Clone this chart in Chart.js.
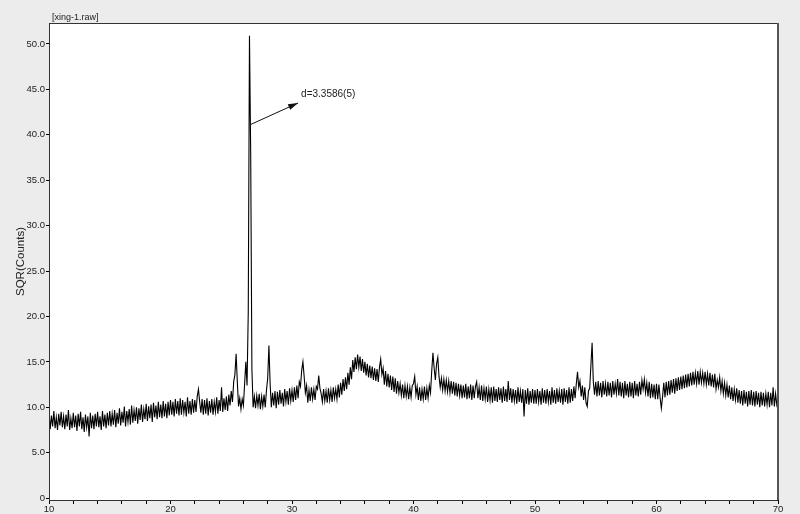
<!DOCTYPE html>
<html>
<head>
<meta charset="utf-8">
<script src="https://cdn.jsdelivr.net/npm/chart.js@4.4.1/dist/chart.umd.min.js"></script>
<style>
html,body{margin:0;padding:0;background:#ececec;}
#wrap{width:800px;height:514px;position:relative;}
</style>
</head>
<body>
<div id="wrap"><canvas id="c" width="800" height="514"></canvas></div>
<script>
// 2-theta scan: start, step (degrees)
const scanStart = 10.0;
const scanStep = 0.1;

// SQR(Counts), in 5-degree blocks
const counts10 = [9.4,7.6,9.1,7.9,9.6,7.7,8.9,7.5,9.3,8.0,
  9.5,7.8,9.0,7.6,9.2,7.9,9.7,7.5,8.8,7.7,
  9.4,7.8,9.1,7.4,9.3,7.9,9.5,7.6,8.9,7.3,
  9.2,7.8,9.0,6.8,9.4,7.7,9.1,7.6,9.3,7.9,
  9.5,7.8,9.0,7.5,9.6,7.9,9.2,7.7,9.4,8.0];
const counts15 = [9.6,7.9,9.3,8.1,9.7,7.8,9.4,8.2,9.9,8.0,
  9.5,8.3,10.1,7.9,9.6,8.4,9.8,8.1,10.2,8.3,
  9.7,8.5,10.0,8.2,9.9,8.6,10.3,8.4,9.8,8.7,
  10.4,8.5,10.1,8.8,10.3,8.4,10.5,8.9,10.2,8.7,
  10.6,8.9,10.3,8.8,10.7,9.0,10.4,8.8,10.6,9.1];
const counts20 = [10.8,9.2,10.6,9.0,10.9,9.3,10.7,9.1,11.0,9.2,
  10.8,9.4,10.6,9.0,11.1,9.3,10.7,9.2,10.9,9.4,
  10.8,9.5,11.2,12.0,10.6,9.4,10.9,9.2,10.8,9.3,
  11.0,9.1,10.7,9.4,10.9,9.2,10.6,9.5,11.1,9.3,
  10.8,9.6,12.2,9.5,11.0,9.7,11.2,9.6,11.4,10.2];
const counts25 = [11.8,10.6,12.8,13.6,15.9,12.8,10.1,11.0,9.8,10.9,
  10.2,12.6,15.0,12.4,20.5,50.9,38.0,14.2,10.0,11.2,
  9.9,11.3,10.2,11.5,9.8,11.2,10.1,11.4,10.0,11.9,
  13.2,16.8,12.6,10.0,11.6,10.2,11.8,9.9,11.7,10.3,
  11.9,10.4,11.6,10.1,12.0,10.6,11.8,10.3,12.1,10.7];
const counts30 = [11.9,10.6,12.2,10.8,12.4,11.0,12.8,12.3,14.1,15.0,
  13.4,11.6,12.4,10.5,11.9,10.7,12.2,10.9,12.0,10.8,
  12.3,12.0,13.5,12.1,11.5,10.6,12.0,10.7,11.8,10.5,
  12.1,10.8,11.9,10.6,12.2,11.0,12.0,10.9,12.5,11.1,
  12.7,11.4,13.1,11.8,13.3,12.0,13.8,12.5,14.4,13.1];
const counts35 = [15.2,13.9,15.5,14.2,15.8,14.4,15.6,14.0,15.3,13.8,
  15.0,13.5,14.8,13.3,14.6,13.2,14.5,13.0,14.3,12.9,
  14.2,12.8,14.4,15.3,13.6,14.3,12.5,14.0,12.3,13.7,
  12.2,13.5,11.9,13.4,11.7,13.2,11.5,12.9,11.6,12.6,
  11.3,12.5,11.0,12.4,11.2,12.3,10.9,12.2,11.1,12.4];
const counts40 = [12.6,13.4,11.4,12.3,10.8,12.2,10.7,12.0,10.9,12.3,
  10.8,12.1,11.0,12.4,11.6,14.0,16.0,14.3,13.0,14.8,
  15.5,13.4,12.2,13.2,11.9,13.1,11.8,13.0,11.7,12.9,
  11.6,12.9,11.5,12.8,11.3,12.7,11.2,12.6,11.3,12.5,
  11.0,12.4,11.1,12.6,10.9,12.3,11.0,12.5,10.8,12.4];
const counts45 = [11.0,12.3,12.8,11.0,12.2,10.8,12.4,10.7,12.1,10.9,
  12.3,10.6,12.0,10.8,12.2,10.5,12.3,10.7,12.0,10.6,
  12.2,10.8,12.1,10.5,12.3,10.7,12.0,10.6,12.9,10.8,
  12.1,10.5,12.0,10.7,11.9,10.4,12.2,10.6,11.8,10.5,
  12.0,9.0,11.9,10.4,12.1,10.3,11.8,10.5,12.0,10.4];
const counts50 = [11.9,10.4,12.0,10.6,11.8,10.3,12.1,10.5,11.9,10.4,
  12.0,10.6,11.8,10.3,12.2,10.5,11.9,10.4,12.1,10.6,
  11.8,10.5,12.0,10.3,12.1,10.6,11.9,10.4,12.2,10.5,
  12.0,10.7,12.3,11.0,12.6,13.9,12.2,12.9,11.2,12.4,
  10.8,12.2,10.5,10.1,11.8,12.1,14.6,17.1,12.8,11.4];
const counts55 = [12.8,11.2,12.9,11.3,12.7,11.1,12.9,11.4,12.6,11.2,
  12.8,11.3,12.7,11.1,12.9,11.4,12.6,11.5,13.1,11.3,
  12.8,11.2,12.7,11.0,12.9,11.3,12.6,11.1,12.8,11.2,
  12.7,11.0,12.9,11.3,12.6,11.2,12.8,11.4,13.0,12.0,
  13.1,11.6,12.7,11.2,12.8,11.0,12.6,11.1,12.5,10.9];
const counts60 = [12.6,10.9,12.5,11.0,9.9,11.2,12.7,11.1,12.8,11.3,
  12.9,11.4,13.0,11.6,13.1,11.5,13.2,11.8,13.3,11.9,
  13.4,12.0,13.5,12.1,13.6,12.2,13.7,12.3,13.8,12.4,
  13.9,12.5,13.8,12.6,14.0,12.5,13.9,12.7,13.8,12.6,
  13.9,12.5,13.7,12.4,13.8,12.3,13.6,12.2,13.7,12.0];
const counts65 = [13.0,12.2,13.3,11.8,12.9,11.5,12.7,11.3,12.5,11.1,
  12.4,10.9,12.2,10.7,12.0,10.8,12.1,10.5,11.9,10.4,
  11.8,10.2,11.9,10.4,11.7,10.1,11.8,10.3,11.9,10.2,
  11.7,10.1,11.8,10.3,11.6,10.0,11.7,10.2,11.6,10.1,
  11.5,10.3,11.7,10.0,11.6,10.2,12.2,10.1,11.5,10.3,
  10.9];

// axis ticks
const xTickValues = [10,12,14,16,18,20,22,24,26,28,30,32,34,36,38,40,42,44,46,48,50,52,54,56,58,60,62,64,66,68,70];
const xTickLabels = [10,20,30,40,50,60,70];
const yTickValues = [0,5,10,15,20,25,30,35,40,45,50];

// annotation (data coordinates)
const fileLabel = "[xing-1.raw]";
const peakText = "d=3.3586(5)";
const arrowFrom = {x: 26.55, y: 41.1};
const arrowTo = {x: 30.5, y: 43.5};
const textAt = {x: 30.75, y: 44.5};

const allCounts = [].concat(counts10,counts15,counts20,counts25,counts30,counts35,
  counts40,counts45,counts50,counts55,counts60,counts65);
const points = allCounts.map((v,i)=>({x: +(scanStart + i*scanStep).toFixed(2), y: v}));

const FONT = "'Liberation Sans', Arial, sans-serif";

const framePlugin = {
  id: 'frame',
  beforeDraw(chart){
    const {ctx, chartArea:a} = chart;
    ctx.save();
    ctx.fillStyle = '#ececec';
    ctx.fillRect(0,0,chart.width,chart.height);
    ctx.fillStyle = '#ffffff';
    ctx.fillRect(a.left,a.top,a.right-a.left,a.bottom-a.top);
    ctx.restore();
  },
  afterDraw(chart){
    const {ctx, chartArea:a, scales} = chart;
    ctx.save();
    ctx.strokeStyle = '#333';
    ctx.lineWidth = 1;
    ctx.strokeRect(a.left+0.5, a.top+0.5, a.right-a.left-1, a.bottom-a.top);
    ctx.beginPath();
    ctx.strokeStyle = '#555';
    ctx.lineWidth = 2;
    ctx.moveTo(a.right, a.top); ctx.lineTo(a.right, a.bottom);
    ctx.stroke();
    // file label
    ctx.fillStyle = '#222';
    ctx.font = '9px ' + FONT;
    ctx.textBaseline = 'bottom';
    ctx.textAlign = 'left';
    ctx.fillText(fileLabel, a.left + 3, a.top - 1);
    // arrow
    const x1 = scales.x.getPixelForValue(arrowFrom.x), y1 = scales.y.getPixelForValue(arrowFrom.y);
    const x2 = scales.x.getPixelForValue(arrowTo.x), y2 = scales.y.getPixelForValue(arrowTo.y);
    ctx.strokeStyle = '#111';
    ctx.lineWidth = 1;
    ctx.beginPath(); ctx.moveTo(x1,y1); ctx.lineTo(x2,y2); ctx.stroke();
    const ang = Math.atan2(y2-y1, x2-x1);
    ctx.fillStyle = '#111';
    ctx.beginPath();
    ctx.moveTo(x2,y2);
    ctx.lineTo(x2 - 10*Math.cos(ang) + 3*Math.sin(ang), y2 - 10*Math.sin(ang) - 3*Math.cos(ang));
    ctx.lineTo(x2 - 10*Math.cos(ang) - 3*Math.sin(ang), y2 - 10*Math.sin(ang) + 3*Math.cos(ang));
    ctx.closePath(); ctx.fill();
    ctx.font = '10px ' + FONT;
    ctx.textBaseline = 'middle';
    ctx.fillStyle = '#222';
    ctx.fillText(peakText, scales.x.getPixelForValue(textAt.x), scales.y.getPixelForValue(textAt.y));
    ctx.restore();
  }
};

new Chart(document.getElementById('c'), {
  type: 'line',
  data: {
    datasets: [{
      data: points,
      borderColor: '#000',
      borderWidth: 1.1,
      pointRadius: 0,
      tension: 0,
      fill: false
    }]
  },
  options: {
    responsive: false,
    animation: false,
    events: [],
    parsing: false,
    layout: {padding: {left: 0, right: 22, top: 23, bottom: 0}},
    plugins: {legend: {display: false}, tooltip: {enabled: false}},
    scales: {
      x: {
        type: 'linear',
        min: 10, max: 70,
        afterBuildTicks(s){ s.ticks = xTickValues.map(v=>({value:v})); },
        afterFit(s){ s.height = 14; },
        grid: {display: true, drawOnChartArea: false, drawTicks: true, tickLength: 4, color: '#000'},
        border: {display: true, color: '#000', width: 1},
        ticks: {
          autoSkip: false, maxRotation: 0, padding: 0,
          color: '#222', font: {size: 9.5, family: FONT},
          callback: (v)=> xTickLabels.includes(v) ? String(v) : ''
        }
      },
      y: {
        type: 'linear',
        min: -0.2, max: 52.3,
        afterBuildTicks(s){ s.ticks = yTickValues.map(v=>({value:v})); },
        afterFit(s){ s.width = 49; },
        grid: {display: true, drawOnChartArea: false, drawTicks: true, tickLength: 3, color: '#000'},
        border: {display: true, color: '#000', width: 1},
        title: {display: true, text: 'SQR(Counts)', color: '#222', font: {size: 11.5, family: FONT}, padding: {top: 14, bottom: 0}},
        ticks: {
          padding: 1,
          color: '#222', font: {size: 9.5, family: FONT},
          callback: (v)=> v === 0 ? '0' : v.toFixed(1)
        }
      }
    }
  },
  plugins: [framePlugin]
});
</script>
</body>
</html>
